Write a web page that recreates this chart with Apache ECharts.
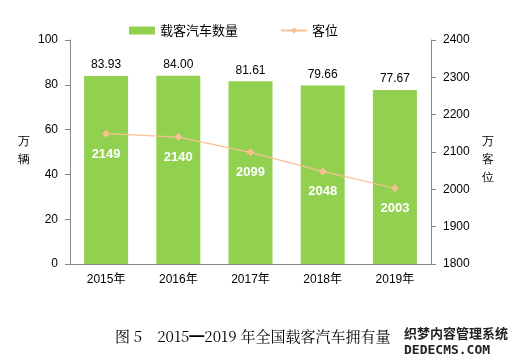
<!DOCTYPE html>
<html><head><meta charset="utf-8">
<script src="https://cdn.jsdelivr.net/npm/echarts@6/dist/echarts.min.js"></script>
<style>html,body{margin:0;padding:0;background:#fff}#c{width:512px;height:363px}</style>
</head><body><div id="c"></div>
<script>
var categories = ['2015年','2016年','2017年','2018年','2019年'];
var vehicles = [83.93, 84.00, 81.61, 79.66, 77.67];
var seats = [2149, 2140, 2099, 2048, 2003];
var leftTicks = {min:0, max:100, interval:20};
var rightTicks = {min:1800, max:2400, interval:100};

var chart = echarts.init(document.getElementById('c'));
var font = 'Arial, "Liberation Sans", "Noto Sans CJK SC", sans-serif';
chart.setOption({
  animation:false,
  textStyle:{fontFamily:font},
  legend:{top:19, left:124, itemGap:42, itemWidth:26, itemHeight:8,
    textStyle:{fontSize:13, color:'#000', fontFamily:'"Noto Sans CJK SC", sans-serif'},
    data:[{name:'载客汽车数量', icon:'rect'},{name:'客位'}]},
  grid:{left:70, right:81, top:40, bottom:99},
  xAxis:{type:'category', data:categories,
    axisLine:{lineStyle:{color:'#888'}}, axisTick:{show:false},
    axisLabel:{color:'#000', fontSize:12, margin:10}},
  yAxis:[
    {type:'value', min:leftTicks.min, max:leftTicks.max, interval:leftTicks.interval,
     axisLine:{show:true, lineStyle:{color:'#888'}}, axisTick:{show:true, length:5, lineStyle:{color:'#888'}},
     splitLine:{show:false}, axisLabel:{color:'#000', fontSize:12, margin:12}},
    {type:'value', min:rightTicks.min, max:rightTicks.max, interval:rightTicks.interval,
     axisLine:{show:true, lineStyle:{color:'#888'}}, axisTick:{show:true, length:5, lineStyle:{color:'#888'}},
     splitLine:{show:false}, axisLabel:{color:'#000', fontSize:12, margin:12, formatter:function(v){return String(v);}}}
  ],
  graphic:[
    {type:'text', left:18, top:133, style:{text:'万\n辆', fontSize:12, lineHeight:18, fill:'#000', font:'12px "Noto Sans CJK SC"'}},
    {type:'text', left:482, top:133, style:{text:'万\n客\n位', fontSize:12, lineHeight:18, fill:'#000', font:'12px "Noto Sans CJK SC"'}},
    {type:'text', left:115, top:329, style:{text:'图 5　2015━2019 年全国载客汽车拥有量', fill:'#000', font:'15px "Noto Serif CJK SC", "Noto Sans CJK SC", serif'}},
    {type:'text', left:403, top:326, style:{text:'织梦内容管理系统', fill:'#222', stroke:'#fff', lineWidth:2, font:'bold 13px "Noto Sans CJK SC"'}},
    {type:'text', left:403, top:343, style:{text:'DEDECMS.COM', fill:'#222', stroke:'#fff', lineWidth:2, font:'bold 13px "DejaVu Sans Mono", monospace'}}
  ],
  series:[
    {name:'载客汽车数量', type:'bar', data:vehicles, barWidth:44, yAxisIndex:0,
     itemStyle:{color:'#92D050'},
     label:{show:true, position:'top', color:'#000', fontSize:12, formatter:function(p){return p.value.toFixed(2);}}},
    {name:'客位', type:'line', data:seats, yAxisIndex:1, symbol:'diamond', symbolSize:8,
     lineStyle:{color:'#F9C08F', width:1.2}, itemStyle:{color:'#F9C08F'},
     label:{show:true, position:'bottom', distance:10, color:'#fff', fontWeight:'bold', fontSize:13}}
  ]
});
</script></body></html>
